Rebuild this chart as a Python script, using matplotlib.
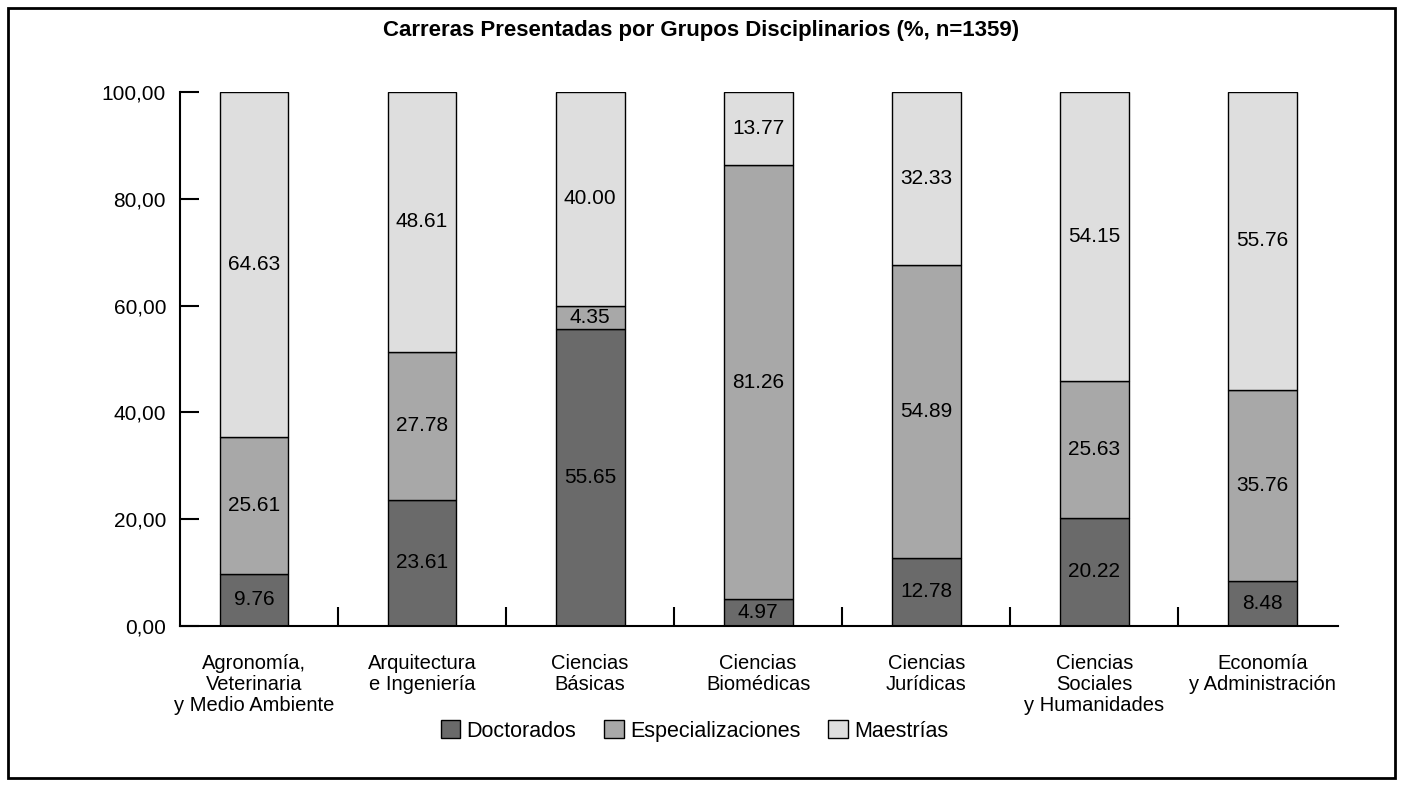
import matplotlib
matplotlib.use("Agg")
import matplotlib.pyplot as plt
from matplotlib.patches import Rectangle
from matplotlib.ticker import FuncFormatter, FixedLocator

plt.rcParams['font.family'] = ['Liberation Sans', 'DejaVu Sans']

categories = ["Agronomía,\nVeterinaria\ny Medio Ambiente", "Arquitectura\ne Ingeniería",
              "Ciencias\nBásicas", "Ciencias\nBiomédicas", "Ciencias\nJurídicas",
              "Ciencias\nSociales\ny Humanidades", "Economía\ny Administración"]
doctorados = [9.76, 23.61, 55.65, 4.97, 12.78, 20.22, 8.48]
especializaciones = [25.61, 27.78, 4.35, 81.26, 54.89, 25.63, 35.76]
maestrias = [64.63, 48.61, 40.00, 13.77, 32.33, 54.15, 55.76]
series_names = ["Doctorados", "Especializaciones", "Maestrías"]
title = "Carreras Presentadas por Grupos Disciplinarios (%, n=1359)"

colors = ["#6a6a6a", "#a8a8a8", "#dedede"]

fig = plt.figure(figsize=(14.03, 7.86), dpi=100)
fig.patches.append(Rectangle((0.006, 0.01), 0.988, 0.98, transform=fig.transFigure,
                             fill=False, edgecolor='black', linewidth=2))
ax = fig.add_axes([0.1283, 0.2036, 0.8254, 0.6794])

x = list(range(len(categories)))
width = 0.41
bottom = [0.0] * len(x)
for vals, col, name in zip([doctorados, especializaciones, maestrias], colors, series_names):
    ax.bar(x, vals, width, bottom=bottom, color=col, edgecolor='black',
           linewidth=1.0, label=name)
    for xi, b, v in zip(x, bottom, vals):
        ax.text(xi, b + v / 2, f"{v:.2f}", ha='center', va='center', fontsize=15,
                color='black')
    bottom = [b + v for b, v in zip(bottom, vals)]

ax.set_xlim(-0.44, 6.45)
ax.set_ylim(0, 100)
ax.set_yticks([0, 20, 40, 60, 80, 100])
ax.yaxis.set_major_formatter(FuncFormatter(lambda v, p: f"{v:.2f}".replace('.', ',')))
ax.tick_params(axis='y', direction='in', length=14, width=1.5, labelsize=15, pad=10)
ax.set_xticks(x)
ax.set_xticklabels(categories, fontsize=14.5, linespacing=1.15)
ax.tick_params(axis='x', length=0, pad=20)
ax.xaxis.set_minor_locator(FixedLocator([i + 0.5 for i in range(-1, 7)]))
ax.tick_params(axis='x', which='minor', direction='in', length=14, width=1.5)

for s in ['top', 'right']:
    ax.spines[s].set_visible(False)
ax.spines['left'].set_linewidth(1.5)
ax.spines['bottom'].set_linewidth(1.5)

fig.text(0.5, 0.961, title, ha='center', va='center', fontsize=16, fontweight='bold')

handles, labels = ax.get_legend_handles_labels()
fig.legend(handles, labels, loc='center', bbox_to_anchor=(0.495, 0.07), ncol=3,
           frameon=False, fontsize=15.5, handlelength=0.9, handleheight=0.9,
           handletextpad=0.3, columnspacing=1.3)

fig.savefig("out.png", dpi=100)
